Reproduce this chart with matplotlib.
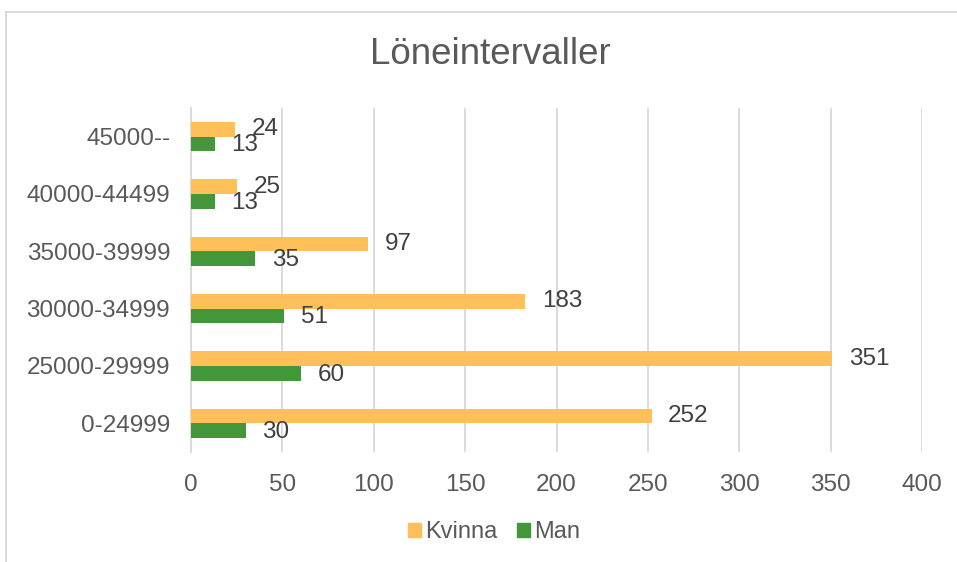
import numpy as np
import matplotlib.pyplot as plt
from matplotlib.lines import Line2D
from matplotlib.patches import Patch

plt.rcParams['font.family'] = ['Liberation Sans', 'DejaVu Sans']

categories = ['0-24999', '25000-29999', '30000-34999', '35000-39999', '40000-44499', '45000--']
kvinna = [252, 351, 183, 97, 25, 24]
man = [30, 60, 51, 35, 13, 13]
xticks = [0, 50, 100, 150, 200, 250, 300, 350, 400]

ORANGE = '#FFC05A'
GREEN = '#43963A'
GRID = '#D9D9D9'
TXT = '#595959'
LBL = '#404040'

W, H = 957, 562
fig = plt.figure(figsize=(W / 100, H / 100), dpi=100)
ax = fig.add_axes([191 / W, 1 - 452 / H, (922 - 191) / W, (452 - 108) / H])

y = np.arange(len(categories))
bh = 0.255
ax.barh(y + bh / 2, kvinna, height=bh, color=ORANGE, label='Kvinna', zorder=3)
ax.barh(y - bh / 2, man, height=bh, color=GREEN, label='Man', zorder=3)

# data labels just outside the bar ends
for yi, v in zip(y + bh / 2, kvinna):
    ax.annotate(str(v), (v, yi), xytext=(12, 0), textcoords='offset points',
                va='center', ha='left', fontsize=17.5, color=LBL)
for yi, v in zip(y - bh / 2, man):
    ax.annotate(str(v), (v, yi), xytext=(12, -1), textcoords='offset points',
                va='center', ha='left', fontsize=17.5, color=LBL)

ax.set_xlim(0, 400)
ax.set_ylim(-0.5, len(categories) - 0.5)
ax.set_xticks(xticks)
ax.set_yticks(y)
ax.set_yticklabels(categories)
ax.tick_params(axis='both', length=0, labelsize=17.5, labelcolor=TXT)
ax.tick_params(axis='x', pad=16)
ax.tick_params(axis='y', pad=15)
ax.xaxis.grid(True, color=GRID, linewidth=1.3, zorder=0)
ax.set_axisbelow(True)
for s in ['top', 'right', 'bottom']:
    ax.spines[s].set_visible(False)
ax.spines['left'].set_color(GRID)
ax.spines['left'].set_linewidth(1.3)

fig.text(490 / W, 1 - 55 / H, 'Löneintervaller', ha='center', va='center',
         fontsize=26.5, color=TXT)

handles = [Patch(color=ORANGE, label='Kvinna'), Patch(color=GREEN, label='Man')]
fig.legend(handles=handles, loc='center', bbox_to_anchor=(494 / W, 1 - 532 / H),
           ncol=2, frameon=False, fontsize=17, labelcolor=TXT,
           handlelength=0.55, handleheight=0.55, handletextpad=0.2, columnspacing=0.8)

# chart frame (cropped screenshot)
fig.add_artist(Line2D([6 / W, 6 / W], [0, 1 - 12 / H], color=GRID, lw=1.3))
fig.add_artist(Line2D([6 / W, 1], [1 - 12 / H, 1 - 12 / H], color=GRID, lw=1.3))

fig.savefig('out.png', dpi=100)
